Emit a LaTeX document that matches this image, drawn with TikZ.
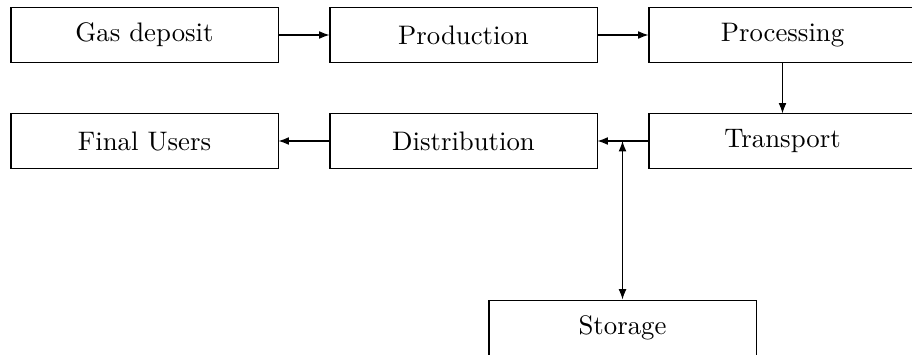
\documentclass[tikz,border=0pt]{standalone}
\usetikzlibrary{arrows.meta}
\begin{document}
\begin{tikzpicture}[x=0.3846pt,y=-0.3846pt,
  every node/.style={font=\fontsize{10.3}{12}\selectfont},
  box/.style={draw,rectangle,minimum width=102.7pt,minimum height=20.8pt,inner sep=0pt},
  conn/.style={-{Latex[length=4pt,width=3pt]}},
  biconn/.style={{Latex[length=4pt,width=3pt]}-{Latex[length=4pt,width=3pt]}}]
\clip (0,0) rectangle (912,354);
\node[box] (gas) at (144.5,35) {Gas deposit};
\node[box] (prod) at (463.5,35) {Production};
\node[box] (proc) at (782.5,35) {Processing};
\node[box] (trans) at (782.5,141) {Transport};
\node[box] (dist) at (463.5,141) {Distribution};
\node[box] (users) at (144.5,141) {Final Users};
\node[box,minimum height=21.5pt] (stor) at (622.5,328) {Storage};
\coordinate (junc) at (622.5,141);
\draw[conn] (gas) -- (prod);
\draw[conn] (prod) -- (proc);
\draw[conn] (proc) -- (trans);
\draw[conn] (trans) -- (dist);
\draw[conn] (dist) -- (users);
\draw[biconn] (junc) -- (stor.north);
\end{tikzpicture}
\end{document}
